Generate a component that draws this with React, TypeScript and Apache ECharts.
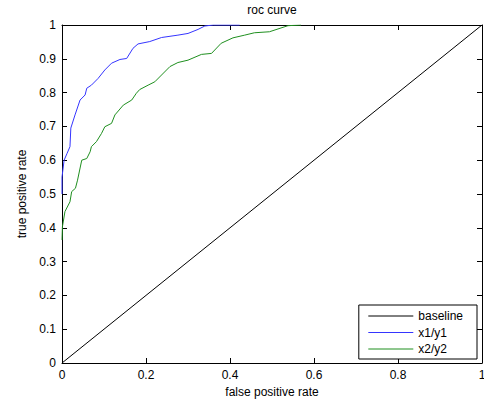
import React, { useEffect, useRef } from "react";
import * as echarts from "echarts";

const baselineX = [0, 1];
const baselineY = [0, 1];

const x1 = [0, 0, 0.005, 0.012, 0.019, 0.021, 0.031, 0.043, 0.055, 0.059, 0.07, 0.086, 0.102, 0.118, 0.138, 0.154, 0.169, 0.181, 0.209, 0.237, 0.276, 0.3, 0.324, 0.34, 0.36, 0.423];
const y1 = [0.5, 0.55, 0.6, 0.62, 0.64, 0.695, 0.734, 0.778, 0.793, 0.813, 0.822, 0.842, 0.867, 0.887, 0.898, 0.901, 0.931, 0.944, 0.951, 0.963, 0.97, 0.975, 0.987, 0.997, 1.0, 1.0];

const x2 = [0, 0.001, 0.007, 0.019, 0.023, 0.032, 0.037, 0.047, 0.059, 0.067, 0.07, 0.082, 0.094, 0.102, 0.118, 0.126, 0.146, 0.166, 0.177, 0.185, 0.205, 0.221, 0.237, 0.257, 0.276, 0.3, 0.332, 0.356, 0.379, 0.407, 0.435, 0.458, 0.494, 0.538, 0.569];
const y2 = [0.364, 0.403, 0.448, 0.477, 0.507, 0.517, 0.541, 0.6, 0.605, 0.625, 0.64, 0.655, 0.679, 0.699, 0.709, 0.734, 0.763, 0.778, 0.798, 0.809, 0.822, 0.832, 0.852, 0.877, 0.889, 0.896, 0.913, 0.916, 0.946, 0.962, 0.97, 0.977, 0.98, 0.998, 1.0];

const seriesNames = ["baseline", "x1/y1", "x2/y2"];
const xTitle = "false positive rate";
const yTitle = "true positive rate";
const chartTitle = "roc curve";

const zip = (xs: number[], ys: number[]) => xs.map((x, i) => [x, ys[i]]);

const FONT = "Liberation Sans";
const BLUE = "#3535ff";
const GREEN = "#1f8f1f";

export default function App() {
  const ref = useRef<HTMLDivElement>(null);
  useEffect(() => {
    if (!ref.current) return;
    const chart = echarts.init(ref.current, null, { renderer: "svg" });
    const axisLine = { show: true, onZero: false, lineStyle: { color: "#000", width: 1 } };
    const axisTick = { show: true, inside: true, length: 5, lineStyle: { color: "#000" } };
    const label = { color: "#000", fontFamily: FONT, fontSize: 12 };
    chart.setOption({
      animation: false,
      backgroundColor: "#fff",
      title: {
        text: chartTitle,
        left: 272,
        top: 4,
        padding: 0,
        textAlign: "center",
        textStyle: { color: "#000", fontFamily: FONT, fontSize: 12, fontWeight: "normal" },
      },
      grid: { left: 62, top: 25, right: 2, bottom: 43, containLabel: false, outerBoundsMode: "none" },
      xAxis: [
        {
          type: "value", min: 0, max: 1, interval: 0.2, position: "bottom",
          axisLine, axisTick, splitLine: { show: false },
          axisLabel: { ...label, margin: 6 },
          name: xTitle, nameLocation: "middle", nameGap: 22,
          nameTextStyle: { ...label },
        },
        {
          type: "value", min: 0, max: 1, interval: 0.2, position: "top",
          axisLine, axisTick, splitLine: { show: false }, axisLabel: { show: false },
        },
      ],
      yAxis: [
        {
          type: "value", min: 0, max: 1, interval: 0.1, position: "left",
          axisLine, axisTick, splitLine: { show: false },
          axisLabel: { ...label, margin: 6 },
          name: yTitle, nameLocation: "middle", nameGap: 34,
          nameTextStyle: { ...label },
        },
        {
          type: "value", min: 0, max: 1, interval: 0.1, position: "right",
          axisLine, axisTick, splitLine: { show: false }, axisLabel: { show: false },
        },
      ],
      legend: {
        data: seriesNames,
        orient: "vertical",
        right: 7,
        bottom: 47,
        itemWidth: 45,
        itemHeight: 14,
        itemGap: 4.5,
        padding: [5, 14, 4, 9],
        borderColor: "#000",
        borderWidth: 1,
        borderRadius: 0,
        backgroundColor: "#fff",
        itemStyle: { opacity: 0 },
        lineStyle: { width: 1 },
        textStyle: { ...label },
      },
      series: [
        {
          name: seriesNames[0], type: "line", data: zip(baselineX, baselineY), symbol: "none",
          lineStyle: { color: "#000", width: 1 }, itemStyle: { color: "#000" },
        },
        {
          name: seriesNames[1], type: "line", data: zip(x1, y1), symbol: "none",
          lineStyle: { color: BLUE, width: 1 }, itemStyle: { color: BLUE },
        },
        {
          name: seriesNames[2], type: "line", data: zip(x2, y2), symbol: "none",
          lineStyle: { color: GREEN, width: 1 }, itemStyle: { color: GREEN },
        },
      ],
    });
    return () => chart.dispose();
  }, []);
  return <div ref={ref} style={{ position: "absolute", left: 0, top: 0, width: 484, height: 406 }} />;
}
